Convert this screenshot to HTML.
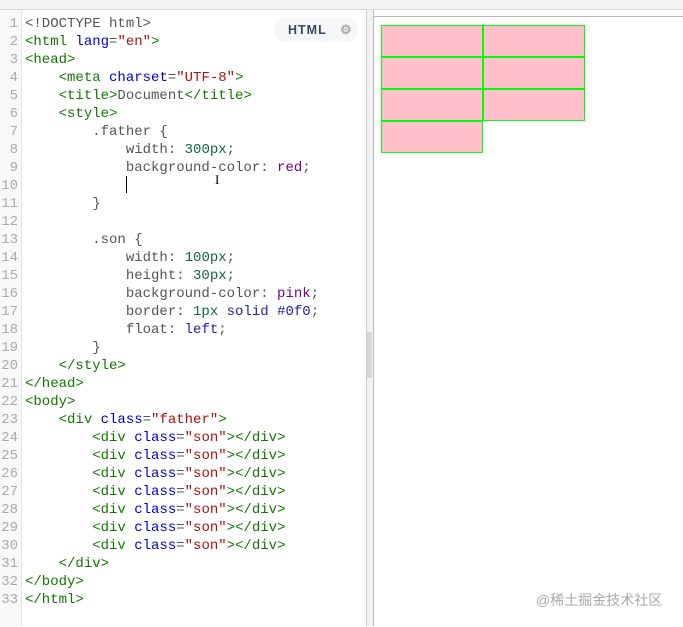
<!DOCTYPE html>
<html><head><meta charset="utf-8"><style>
body{margin:0;width:683px;height:626px;background:#fff;position:relative;overflow:hidden;font-family:"Liberation Mono",monospace}
.top{position:absolute;left:0;top:0;width:683px;height:9px;background:#f3f3f3;border-bottom:1px solid #d6d6d6}
.ed{position:absolute;left:0;top:10px;width:366px;height:616px;background:#fff}
.gut{position:absolute;left:0;top:10px;width:21px;height:616px;background:#f9f9f9;border-right:1px solid #e3e3e3}
.ln{position:absolute;left:0;width:18px;text-align:right;font-size:14px;color:#aaa;line-height:18px}
.cd{position:absolute;left:25px;font-size:14px;line-height:18px;white-space:pre;color:#555}
.t{color:#170}.a{color:#00c}.s{color:#a11}.n{color:#164}.k{color:#708}.b{color:#22a}
.sb{position:absolute;left:366px;top:10px;width:6px;height:616px;background:#f2f2f2;border-left:1px solid #ccc;border-right:1px solid #bbb}
.th{position:absolute;left:367px;top:332px;width:5px;height:46px;background:#d6d6d6}
.pv{position:absolute;left:374px;top:16px;width:309px;height:610px;border-top:1px solid #bbb}
.bx{position:absolute;width:100px;height:30px;background:pink;border:1px solid #0f0}
.badge{position:absolute;left:274px;top:18px;width:84px;height:24px;border-radius:12px;background:#f6f7f8;font-family:"Liberation Sans",sans-serif;font-weight:bold;font-size:12.5px;color:#34495e;letter-spacing:1px;line-height:24px}
.wm{position:absolute;left:536px;top:590px;font-family:"Liberation Sans","Noto Sans CJK SC",sans-serif;font-size:14px;color:#aaa}
</style></head><body>
<div class="top"></div>
<div class="ed"></div>
<div class="gut"></div>
<div class="ln" style="top:15px">1<br>2<br>3<br>4<br>5<br>6<br>7<br>8<br>9<br>10<br>11<br>12<br>13<br>14<br>15<br>16<br>17<br>18<br>19<br>20<br>21<br>22<br>23<br>24<br>25<br>26<br>27<br>28<br>29<br>30<br>31<br>32<br>33</div>
<div class="cd" style="top:15px">&lt;!DOCTYPE html&gt;
<span class="t">&lt;html</span> <span class="a">lang</span>=<span class="s">"en"</span><span class="t">&gt;</span>
<span class="t">&lt;head&gt;</span>
    <span class="t">&lt;meta</span> <span class="a">charset</span>=<span class="s">"UTF-8"</span><span class="t">&gt;</span>
    <span class="t">&lt;title&gt;</span>Document<span class="t">&lt;/title&gt;</span>
    <span class="t">&lt;style&gt;</span>
        .father {
            width: <span class="n">300px</span>;
            background-color: <span class="k">red</span>;

        }

        .son {
            width: <span class="n">100px</span>;
            height: <span class="n">30px</span>;
            background-color: <span class="k">pink</span>;
            border: <span class="n">1px</span> <span class="b">solid</span> <span class="b">#0f0</span>;
            float: <span class="b">left</span>;
        }
    <span class="t">&lt;/style&gt;</span>
<span class="t">&lt;/head&gt;</span>
<span class="t">&lt;body&gt;</span>
    <span class="t">&lt;div</span> <span class="a">class</span>=<span class="s">"father"</span><span class="t">&gt;</span>
        <span class="t">&lt;div</span> <span class="a">class</span>=<span class="s">"son"</span><span class="t">&gt;&lt;/div&gt;</span>
        <span class="t">&lt;div</span> <span class="a">class</span>=<span class="s">"son"</span><span class="t">&gt;&lt;/div&gt;</span>
        <span class="t">&lt;div</span> <span class="a">class</span>=<span class="s">"son"</span><span class="t">&gt;&lt;/div&gt;</span>
        <span class="t">&lt;div</span> <span class="a">class</span>=<span class="s">"son"</span><span class="t">&gt;&lt;/div&gt;</span>
        <span class="t">&lt;div</span> <span class="a">class</span>=<span class="s">"son"</span><span class="t">&gt;&lt;/div&gt;</span>
        <span class="t">&lt;div</span> <span class="a">class</span>=<span class="s">"son"</span><span class="t">&gt;&lt;/div&gt;</span>
        <span class="t">&lt;div</span> <span class="a">class</span>=<span class="s">"son"</span><span class="t">&gt;&lt;/div&gt;</span>
    <span class="t">&lt;/div&gt;</span>
<span class="t">&lt;/body&gt;</span>
<span class="t">&lt;/html&gt;</span></div>
<div style="position:absolute;left:126px;top:176px;width:1px;height:17px;background:#000"></div>
<div style="position:absolute;left:215px;top:172px;font-size:13px;color:#000;font-family:'Liberation Serif',serif">I</div>
<div class="badge"><span style="position:absolute;left:14px">HTML</span><span style="position:absolute;left:66px;color:#aaa;font-size:13px">⚙</span></div>
<div class="sb"></div><div class="th"></div>
<div class="pv"></div>
<div class="bx" style="left:381px;top:25px"></div>
<div class="bx" style="left:483px;top:25px"></div>
<div class="bx" style="left:381px;top:57px"></div>
<div class="bx" style="left:483px;top:57px"></div>
<div class="bx" style="left:381px;top:89px"></div>
<div class="bx" style="left:483px;top:89px"></div>
<div class="bx" style="left:381px;top:121px"></div>
<div class="wm">@稀土掘金技术社区</div>
</body></html>
